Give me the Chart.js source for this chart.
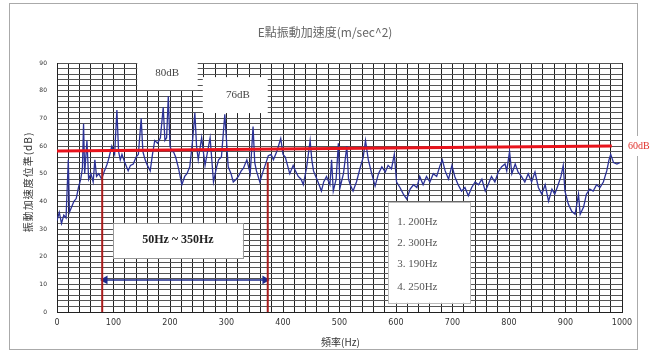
<!DOCTYPE html>
<html>
<head>
<meta charset="utf-8">
<script src="https://cdn.jsdelivr.net/npm/chart.js@4.4.0/dist/chart.umd.min.js"></script>
<style>
  html, body { margin: 0; padding: 0; background: #fff; }
</style>
</head>
<body>
<canvas id="chart" width="658" height="355"></canvas>
<script>
const chartTitle = "E點振動加速度(m/sec^2)";
const xTitle = "頻率(Hz)";
const yTitle = "振動加速度位準(dB)";

// spectrum (Hz, dB)
const freqHz = [
  0, 4, 8, 12, 16, 20, 22, 26, 30, 34,
  38, 42, 45, 47, 49, 53, 56, 60, 64, 67,
  70, 74, 79, 84, 88, 91, 97, 102, 106, 109,
  112, 115, 120, 126, 130, 135, 140, 144, 149, 152,
  156, 160, 165, 169, 173, 178, 183, 188, 191, 194,
  197, 200, 203, 206, 210, 215, 221, 226, 230, 235,
  240, 244, 247, 250, 256, 262, 271, 277, 282, 286,
  291, 297, 303, 308, 312, 317, 321, 326, 330, 336,
  342, 347, 350, 353, 359, 365, 370, 374, 379, 383,
  389, 396, 400, 404, 408, 412, 418, 422, 427, 432,
  436, 442, 448, 451, 454, 458, 462, 468, 472, 477,
  483, 486, 489, 494, 498, 501, 507, 513, 516, 519,
  524, 530, 536, 542, 546, 551, 557, 563, 569, 575,
  581, 586, 592, 597, 601, 607, 613, 619, 625, 631,
  637, 642, 648, 654, 660, 666, 672, 678, 682, 687,
  693, 699, 704, 710, 716, 722, 728, 734, 740, 746,
  752, 758, 763, 769, 775, 781, 787, 793, 796, 801,
  805, 811, 816, 822, 828, 834, 840, 846, 852, 858,
  864, 870, 876, 881, 887, 892, 896, 899, 905, 911,
  917, 923, 926, 932, 937, 943, 949, 955, 961, 967,
  973, 977, 980, 985, 991, 996
];
const levelDb = [
  33, 36, 32, 35, 34, 55, 36, 38, 40, 41,
  45, 48, 52, 68, 50, 62, 48, 50, 47, 55,
  49, 50, 48, 51, 53, 55, 60, 57, 73, 58,
  55, 57, 54, 51, 53, 53.5, 56, 57, 70, 58,
  55, 53, 51, 57, 62, 61, 63, 74, 62, 63,
  78, 60, 58, 58, 56, 52, 46, 49, 50, 52.5,
  62, 72, 60, 55, 63, 53, 63, 47, 52, 55,
  56, 71.5, 52.5, 50, 47, 48, 49, 51, 52, 55,
  50, 67, 54, 51, 47, 51, 54, 56.5, 57, 55,
  58, 62.7, 57, 56, 53, 50, 53, 51, 49, 48,
  46, 52.5, 62, 55, 51, 49, 47, 43.7, 47, 49,
  46, 55, 43.7, 48, 61, 45, 50, 60, 48, 46,
  43.7, 47, 51.7, 56, 62, 55, 50, 45.5, 50, 52.5,
  50.6, 53, 51.7, 57, 47, 45, 42.6, 40.8, 44.4, 46,
  45, 49, 46, 49, 47, 50, 49, 53, 55, 51,
  48, 53, 49, 46, 43.7, 45, 42, 45, 47, 46,
  48, 43.7, 46, 49, 47, 50.6, 52.5, 53.5, 51, 58,
  50, 53.5, 50.6, 49, 47, 50, 47, 50.6, 45, 42.6,
  46, 40, 44.4, 42.6, 46, 49, 53, 43.7, 39, 36.4,
  35.3, 42.6, 35.3, 37.9, 42.6, 44.4, 43.7, 46, 45, 47,
  51, 55, 57, 54, 53.5, 54
];

// 60 dB reference line (slightly tilted in the original)
const limitHz = [0, 982];
const limitDb = [58.2, 60];

// band markers 50Hz~350Hz
const bandLowHz = [80, 80];
const bandLowDb = [52, 0];
const bandHighHz = [373, 373];
const bandHighDb = [54, 0];
const arrowHz = [85, 368];
const arrowDb = [11.6, 11.6];

const peakLabels = ["80dB", "76dB"];
const bandLabel = "50Hz ~ 350Hz";
const modeLabels = ["1. 200Hz", "2. 300Hz", "3. 190Hz", "4. 250Hz"];
const limitLabel = "60dB";

const toPoints = (xs, ys) => xs.map((x, i) => ({ x, y: ys[i] }));

const serif = "'Liberation Serif', 'DejaVu Serif', serif";
const cjk = "'Noto Sans CJK TC', 'Noto Sans CJK SC', sans-serif";

function whiteBox(ctx, x0, y0, x1, y1, stroke) {
  ctx.fillStyle = "#fff";
  ctx.fillRect(x0, y0, x1 - x0, y1 - y0);
  if (stroke) {
    ctx.strokeStyle = stroke;
    ctx.lineWidth = 1;
    ctx.strokeRect(Math.round(x0) + 0.5, Math.round(y0) + 0.5, Math.round(x1 - x0), Math.round(y1 - y0));
  }
}

const notesPlugin = {
  id: "notes",
  beforeDatasetsDraw(chart) {
    const { ctx, chartArea, scales: { x, y } } = chart;
    ctx.save();
    // peak labels
    whiteBox(ctx, x.getPixelForValue(142), chartArea.top - 3, x.getPixelForValue(249), y.getPixelForValue(80.2));
    whiteBox(ctx, x.getPixelForValue(258), y.getPixelForValue(84.9), x.getPixelForValue(373), y.getPixelForValue(71.9));
    // band label
    whiteBox(ctx, x.getPixelForValue(99), y.getPixelForValue(32.2), x.getPixelForValue(329), y.getPixelForValue(19.5), "#999");
    // mode list
    whiteBox(ctx, x.getPixelForValue(586), y.getPixelForValue(39.8), x.getPixelForValue(731), y.getPixelForValue(3.3), "#bbb");

    ctx.textBaseline = "middle";
    ctx.textAlign = "center";
    ctx.fillStyle = "#444";
    ctx.font = "11px " + serif;
    ctx.fillText(peakLabels[0], x.getPixelForValue(195), y.getPixelForValue(86.2));
    ctx.fillText(peakLabels[1], x.getPixelForValue(320), y.getPixelForValue(78.4));

    ctx.fillStyle = "#222";
    ctx.font = "bold 12px " + serif;
    ctx.fillText(bandLabel, x.getPixelForValue(214), y.getPixelForValue(26));

    ctx.textAlign = "left";
    ctx.fillStyle = "#555";
    ctx.font = "11px " + serif;
    const rows = [32.5, 24.9, 17.3, 9.0];
    modeLabels.forEach((t, i) => ctx.fillText(t, x.getPixelForValue(602), y.getPixelForValue(rows[i])));
    ctx.restore();
  },
  afterDraw(chart) {
    const { ctx, chartArea, scales: { x, y } } = chart;
    ctx.save();
    // outer frame
    ctx.strokeStyle = "#aaa";
    ctx.lineWidth = 1;
    ctx.strokeRect(9.5, 3.5, 628, 346);

    // title
    ctx.fillStyle = "#666";
    ctx.font = "12px " + cjk;
    ctx.textAlign = "center";
    ctx.textBaseline = "middle";
    ctx.fillText(chartTitle, 325, 32);

    // axis titles
    ctx.fillStyle = "#333";
    ctx.font = "10px " + cjk;
    ctx.fillText(xTitle, (chartArea.left + chartArea.right) / 2 + 1, 342);
    ctx.save();
    ctx.translate(28, 182);
    ctx.rotate(-Math.PI / 2);
    ctx.letterSpacing = "1px";
    ctx.fillText(yTitle, 0, 0);
    ctx.restore();

    // 60dB label on the right
    const ly = y.getPixelForValue(limitDb[1]);
    ctx.fillStyle = "#fff";
    ctx.fillRect(624, ly - 10, 34, 20);
    ctx.fillStyle = "#e0302a";
    ctx.font = "10px " + serif;
    ctx.textAlign = "left";
    ctx.fillText(limitLabel, 628, ly);
    ctx.restore();
  }
};

new Chart(document.getElementById("chart"), {
  type: "line",
  data: {
    datasets: [
      {
        data: toPoints(limitHz, limitDb),
        borderColor: "#e8141c",
        borderWidth: 3,
        pointRadius: 0
      },
      {
        data: toPoints(bandLowHz, bandLowDb),
        borderColor: "#a81c1c",
        borderWidth: 2,
        pointRadius: 0
      },
      {
        data: toPoints(bandHighHz, bandHighDb),
        borderColor: "#a81c1c",
        borderWidth: 2,
        pointRadius: 0
      },
      {
        data: toPoints(arrowHz, arrowDb),
        borderColor: "#1c2a8c",
        backgroundColor: "#1c2a8c",
        borderWidth: 1.5,
        pointStyle: "triangle",
        pointRadius: 3.5,
        pointRotation: [-90, 90]
      },
      {
        data: toPoints(freqHz, levelDb),
        borderColor: "#2b3196",
        borderWidth: 1.3,
        pointRadius: 0,
        tension: 0
      }
    ]
  },
  options: {
    responsive: false,
    animation: false,
    devicePixelRatio: 1,
    layout: { padding: { top: 63, right: 36, bottom: 0, left: 0 } },
    plugins: {
      legend: { display: false },
      title: { display: false },
      tooltip: { enabled: false }
    },
    scales: {
      x: {
        type: "linear",
        min: 0,
        max: 1000,
        afterFit: (s) => { s.height = 43; },
        border: { color: "#222" },
        grid: { color: "#222", lineWidth: 1, drawTicks: false },
        ticks: {
          stepSize: 20,
          autoSkip: false,
          maxRotation: 0,
          padding: 6,
          color: "#333",
          font: { size: 8, family: "'DejaVu Sans', sans-serif" },
          callback: (v) => (v % 100 === 0 ? v : "")
        }
      },
      y: {
        min: 0,
        max: 90,
        afterFit: (s) => { s.width = 57; },
        border: { color: "#222" },
        grid: { color: "#555", lineWidth: 1, drawTicks: false },
        ticks: {
          stepSize: 2,
          autoSkip: false,
          padding: 10,
          color: "#333",
          font: { size: 6, family: "'DejaVu Sans', sans-serif" },
          callback: (v) => (v % 10 === 0 ? v : "")
        }
      }
    }
  },
  plugins: [notesPlugin]
});
</script>
</body>
</html>
